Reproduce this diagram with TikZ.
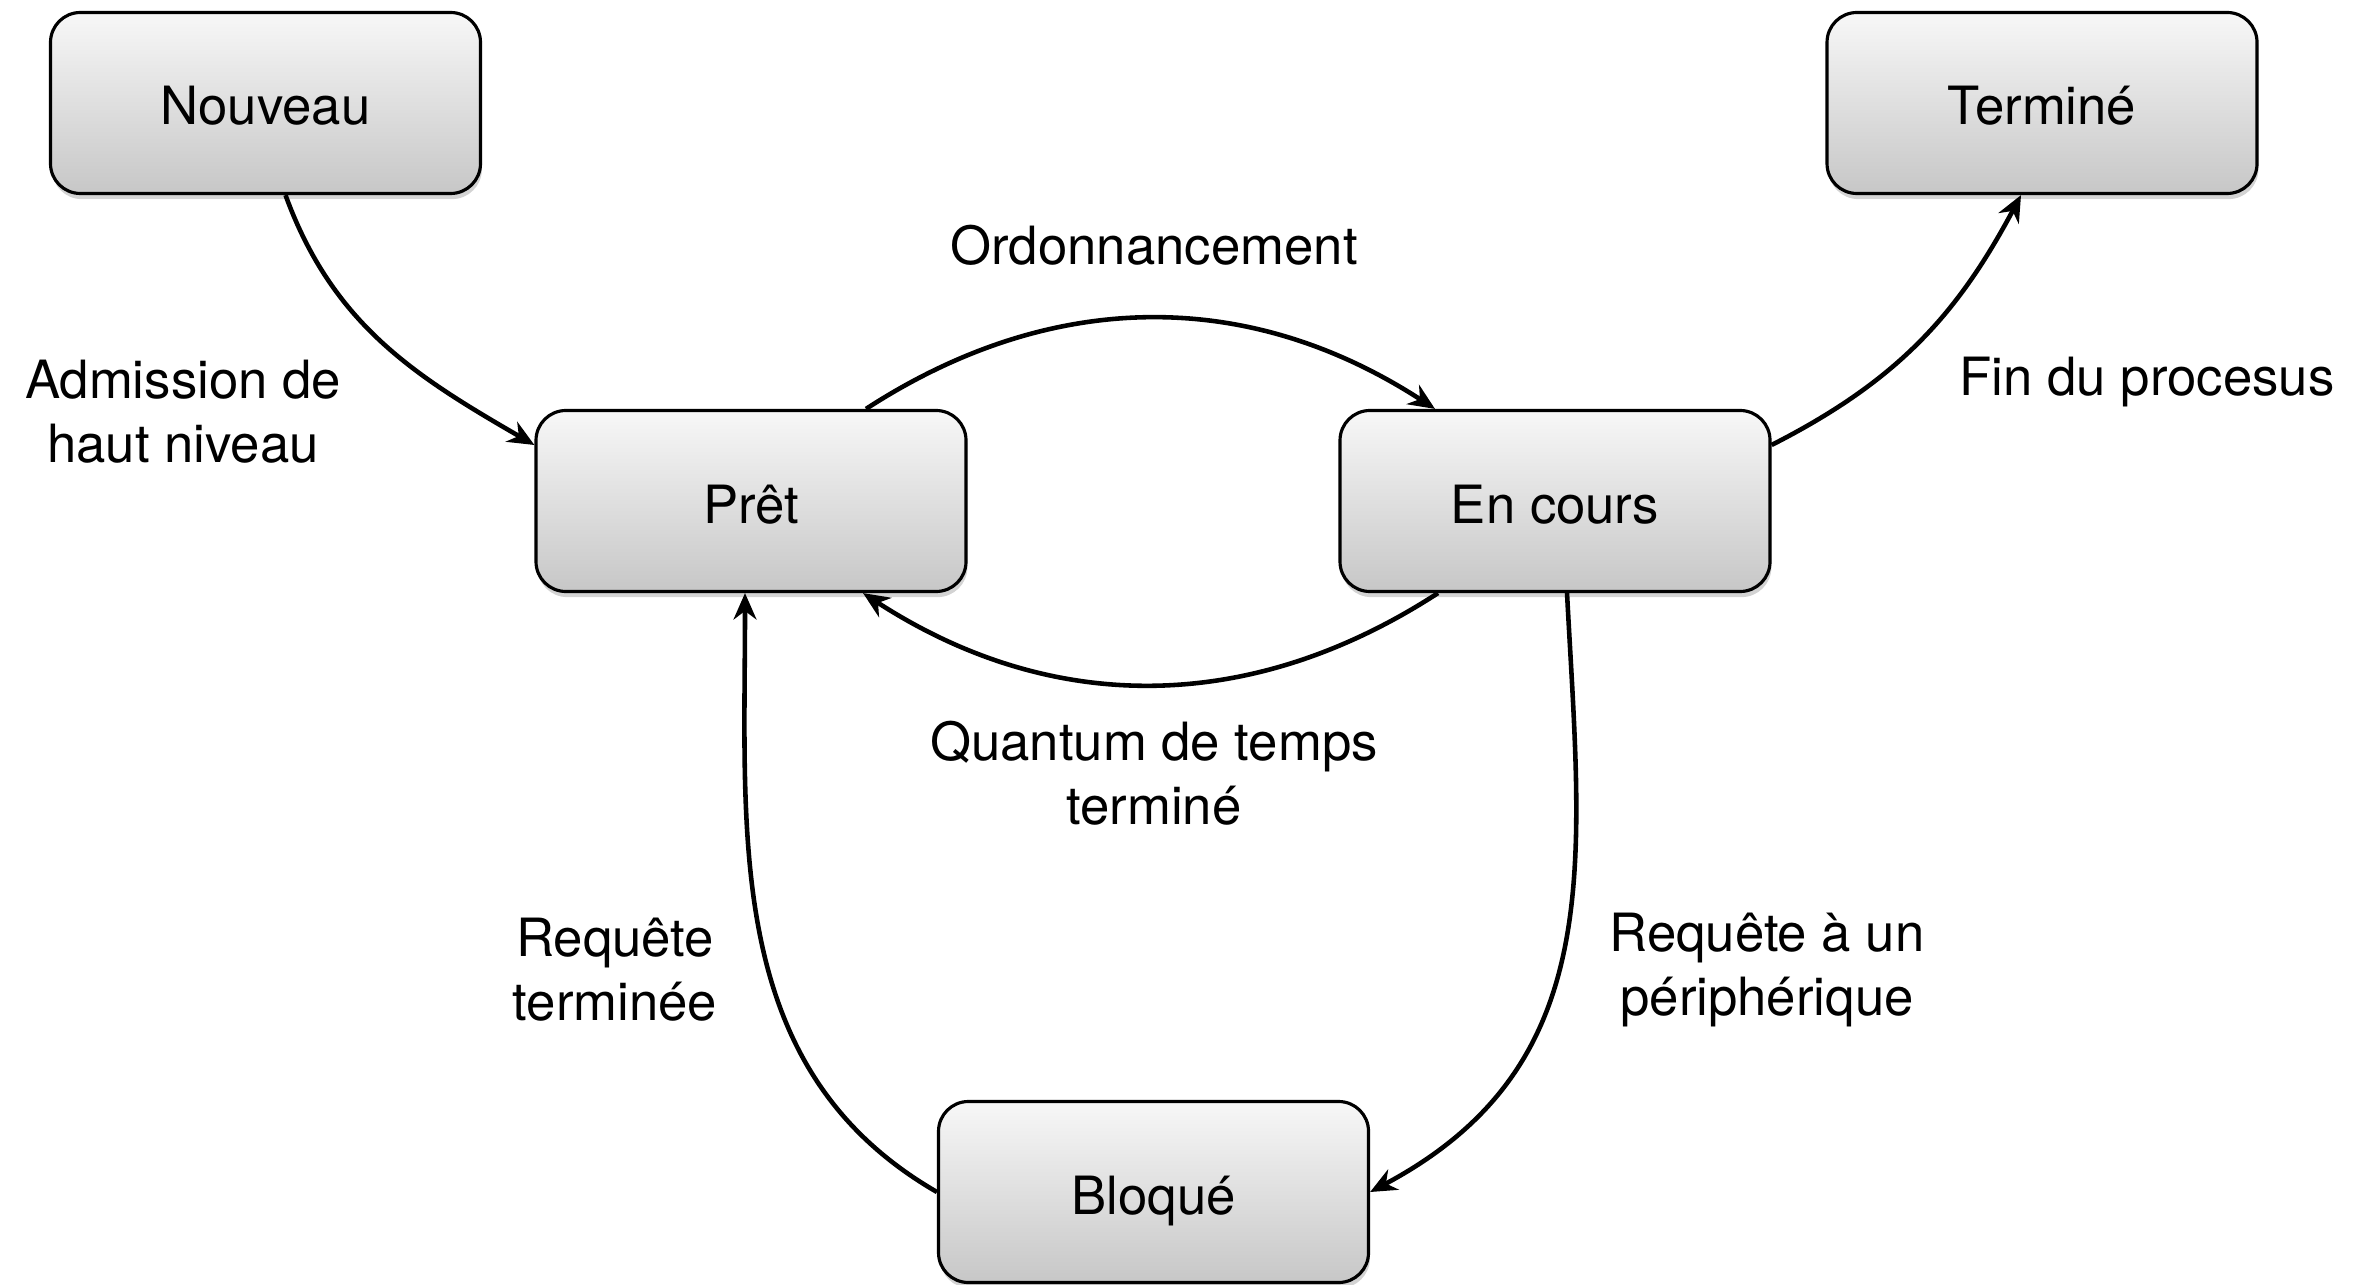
\documentclass[tikz,border=0pt]{standalone}
\usepackage{fontspec}
\setmainfont{TeX Gyre Heros}
\usetikzlibrary{arrows.meta,shadows}

\tikzset{
	etat/.style={draw=black, line width=0.9pt, rounded corners=8.5pt,
		minimum width=4.3cm, minimum height=1.81cm, inner sep=0pt,
		text height=0.44cm, text depth=0cm,
		top color=white!97!black, bottom color=black!22,
		drop shadow={shadow xshift=0.4pt, shadow yshift=-1.6pt, opacity=0.35},
		font=\fontsize{15}{18}\selectfont},
	etiquette/.style={align=center, inner sep=0pt, font=\fontsize{15}{18.2}\selectfont},
	fleche/.style={line width=1.3pt, -{Stealth[length=7.5pt,width=6.5pt,inset=2.4pt]}}
}

\begin{document}
\begin{tikzpicture}
		%%%%% START %%%%%
		\useasboundingbox (0, 0) rectangle (23.74, 12.84);
		
		\node[etat] (nouveau) at (2.655, 11.81) {Nouveau};
		\node[etat] (termine) at (20.42, 11.81) {Terminé};
		\node[etat] (pret) at (7.51, 7.83) {Prêt};
		\node[etat] (encours) at (15.55, 7.83) {En cours};
		\node[etat] (bloque) at (11.535, 0.92) {Bloqué};
		
		\node[etiquette] (admission) at (1.83, 8.72) {Admission de\\haut niveau};
		\node[etiquette] (ordo) at (11.54, 10.39) {Ordonnancement};
		\node[etiquette] (fin) at (21.47, 9.02) {Fin du procesus};
		\node[etiquette] (quantum) at (11.54, 5.11) {Quantum de temps\\terminé};
		\node[etiquette] (reqfin) at (6.15, 3.14) {Requête\\terminée};
		\node[etiquette] (reqperiph) at (17.67, 3.14) {Requête à un\\périphérique};
		
		\draw[fleche] ([xshift=0.2cm]nouveau.south) to[out=-70, in=150] ([yshift=0.56cm]pret.west);
		\draw[fleche] ([xshift=1.15cm]pret.north) to[out=33, in=147] ([xshift=-1.2cm]encours.north);
		\draw[fleche] ([xshift=-1.17cm]encours.south) to[out=-147, in=-33] ([xshift=1.12cm]pret.south);
		\draw[fleche] ([yshift=0.56cm]encours.east) to[out=27, in=-118] ([xshift=-0.21cm]termine.south);
		
		\draw[fleche] ([xshift=0.12cm]encours.south) to[out=-87, in=28, looseness=1.1] (bloque.east);
		\draw[fleche] (bloque.west) to[out=150, in=-90] ([xshift=-0.06cm]pret.south);
		
		%%%%% END %%%%%
	\end{tikzpicture}
\end{document}
